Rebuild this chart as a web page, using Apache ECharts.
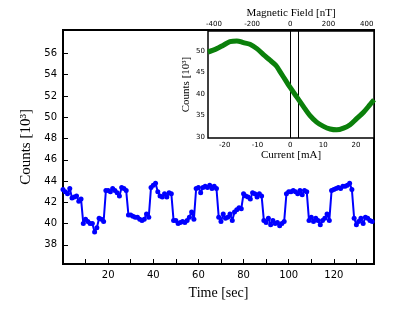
<!DOCTYPE html>
<html>
<head>
<meta charset="utf-8">
<script src="https://cdn.jsdelivr.net/npm/echarts@6/dist/echarts.min.js"></script>
<style>html,body{margin:0;padding:0;background:#fff}#c{width:415px;height:313px}</style>
</head>
<body>
<div id="c"></div>
<script>
// Main panel: time (s) vs counts (10^3)
var timeSec = [0,1,2,3,4,5,6,7,8,9,10,11,12,13,14,15,16,17,18,19,20,21,22,23,24,25,26,27,28,29,30,31,32,33,34,35,36,37,38,39,40,41,42,43,44,45,46,47,48,49,50,51,52,53,54,55,56,57,58,59,60,61,62,63,64,65,66,67,68,69,70,71,72,73,74,75,76,77,78,79,80,81,82,83,84,85,86,87,88,89,90,91,92,93,94,95,96,97,98,99,100,101,102,103,104,105,106,107,108,109,110,111,112,113,114,115,116,117,118,119,120,121,122,123,124,125,126,127,128,129,130,131,132,133,134,135,136,137];
var counts = [43.2,43.0,42.8,43.3,42.4,42.5,42.6,42.1,42.3,40.0,40.4,40.2,40.0,40.0,39.2,39.6,40.5,40.4,40.2,43.1,
  43.1,43.0,43.3,43.1,42.9,42.6,43.4,43.3,43.1,40.8,40.8,40.7,40.6,40.6,40.4,40.3,40.4,40.9,40.6,43.4,
  43.6,43.8,43.0,42.6,42.5,42.8,42.5,42.9,42.8,40.3,40.3,40.0,40.1,40.2,40.1,40.3,40.6,41.1,40.4,43.3,
  43.4,42.9,43.4,43.5,43.4,43.6,43.3,43.5,43.3,40.6,40.2,40.9,40.5,40.6,40.9,40.3,41.1,41.3,41.5,41.4,
  42.8,42.6,42.5,42.3,42.9,42.8,42.5,42.8,42.6,40.3,40.1,40.5,39.9,40.3,40.0,40.1,39.8,40.0,40.2,42.8,
  43.0,43.0,43.1,43.0,42.8,43.1,42.7,43.1,43.0,40.3,40.6,40.2,40.5,40.3,39.9,40.3,40.5,40.9,40.3,43.1,
  43.2,43.3,43.4,43.3,43.5,43.5,43.6,43.8,43.2,40.5,39.9,40.2,40.5,40.0,40.6,40.5,40.3,40.2];
var mainYTicks = [38,40,42,44,46,48,50,52,54,56];
var mainXTicks = [10,20,30,40,50,60,70,80,90,100,110,120,130];
var mainXLabels = [20,40,60,80,100,120];

// Inset: current (mA) vs counts (10^3)
var currentMA = [-25.1,-22.4,-20.4,-18.4,-16.3,-14.3,-12.3,-10.2,-8.2,-6.2,-4.4,-3.1,-1.1,0,2,4,6,8,10.1,12.1,14.1,16.2,18.2,20.2,22.3,24.3,25.5];
var insetCounts = [49.8,50.6,51.4,52.2,52.4,52.0,51.6,50.6,49.2,47.9,46.7,45.2,42.8,41.5,39.3,37.1,35.0,33.5,32.5,31.9,31.7,32.1,32.9,34.3,35.8,37.6,38.7];
var insetYTicks = [30,35,40,45,50];
var insetXTicks = [-20,-10,0,10,20];
var fieldTicks = [-400,-200,0,200,400];
var fieldMinorTicks = [-400,-350,-300,-250,-200,-150,-100,-50,0,50,100,150,200,250,300,350,400];
var markerCurrents = [0,2.5];

var serif = '"Liberation Serif", "Times New Roman", serif';
var sans = '"DejaVu Sans", sans-serif';

var chart = echarts.init(document.getElementById('c'), null, {renderer:'canvas'});
var option = {
  backgroundColor:'#fff',
  animation:false,
  grid:[
    {left:63, top:30, right:41, bottom:49, show:true, borderColor:'#000', borderWidth:2, backgroundColor:'#fff'},
    {left:208, top:31, right:41, height:107, show:true, borderColor:'#000', borderWidth:1.5, backgroundColor:'#fff', z:5}
  ],
  xAxis:[
    {gridIndex:0, type:'value', min:0, max:137.8,
     name:'Time [sec]', nameLocation:'middle', nameGap:22,
     nameTextStyle:{fontFamily:serif, fontSize:14, color:'#000'},
     axisLine:{show:false}, splitLine:{show:false},
     axisTick:{inside:true, length:5, customValues:mainXTicks, lineStyle:{color:'#000', width:1}},
     axisLabel:{customValues:mainXLabels, fontFamily:sans, fontSize:10, color:'#000', margin:6}},
    {gridIndex:1, type:'value', min:-25.08, max:25.48, position:'bottom',
     name:'Current [mA]', nameLocation:'middle', nameGap:12,
     nameTextStyle:{fontFamily:serif, fontSize:11, color:'#000'},
     axisLine:{show:false}, splitLine:{show:false},
     axisTick:{inside:true, length:4, customValues:insetXTicks, lineStyle:{color:'#000'}},
     axisLabel:{customValues:insetXTicks, fontFamily:sans, fontSize:7, color:'#000', margin:4}},
    {gridIndex:1, type:'value', min:-431, max:438, position:'top',
     name:'Magnetic Field [nT]', nameLocation:'middle', nameGap:12,
     nameTextStyle:{fontFamily:serif, fontSize:11, color:'#000'},
     axisLine:{show:false}, splitLine:{show:false},
     axisTick:{inside:true, length:4, customValues:fieldTicks, lineStyle:{color:'#000'}},
     axisLabel:{customValues:fieldTicks, fontFamily:sans, fontSize:7, color:'#000', margin:3}},
    {gridIndex:1, type:'value', min:-431, max:438, position:'top', offset:0,
     axisLine:{show:false}, splitLine:{show:false},
     axisTick:{inside:true, length:2, customValues:fieldMinorTicks, lineStyle:{color:'#000'}},
     axisLabel:{show:false}}
  ],
  yAxis:[
    {gridIndex:0, type:'value', min:36.2, max:58.2,
     name:'Counts [10³]', nameLocation:'middle', nameGap:27, nameRotate:90,
     nameTextStyle:{fontFamily:serif, fontSize:15, color:'#000'},
     axisLine:{show:false}, splitLine:{show:false},
     axisTick:{inside:true, length:5, customValues:mainYTicks, lineStyle:{color:'#000'}},
     axisLabel:{customValues:mainYTicks, fontFamily:sans, fontSize:10, color:'#000', margin:6}},
    {gridIndex:1, type:'value', min:29.8, max:54.7, position:'left',
     name:'Counts [10³]', nameLocation:'middle', nameGap:16, nameRotate:90,
     nameTextStyle:{fontFamily:serif, fontSize:11, color:'#000'},
     axisLine:{show:false}, splitLine:{show:false},
     axisTick:{inside:true, length:4, customValues:insetYTicks, lineStyle:{color:'#000'}},
     axisLabel:{customValues:insetYTicks, fontFamily:sans, fontSize:7, color:'#000', margin:3}},
    {gridIndex:1, type:'value', min:29.8, max:54.7, position:'right',
     axisLine:{show:false}, splitLine:{show:false},
     axisTick:{inside:true, length:4, customValues:insetYTicks, lineStyle:{color:'#000'}},
     axisLabel:{show:false}}
  ],
  series:[
    {type:'line', xAxisIndex:0, yAxisIndex:0,
     data: timeSec.map(function(t,i){return [t, counts[i]];}),
     symbol:'circle', symbolSize:5, showSymbol:true,
     lineStyle:{color:'#0000ff', width:2}, itemStyle:{color:'#0000ff'}},
    {type:'line', xAxisIndex:1, yAxisIndex:1, z:6,
     data: currentMA.map(function(c,i){return [c, insetCounts[i]];}),
     smooth:0.3, symbol:'none',
     lineStyle:{color:'#0b800b', width:5},
     markLine:{silent:true, symbol:'none', label:{show:false},
       lineStyle:{color:'#000', width:1, type:'solid'},
       data: markerCurrents.map(function(c){return {xAxis:c};})}}
  ]
};
chart.setOption(option);
</script>
</body>
</html>
